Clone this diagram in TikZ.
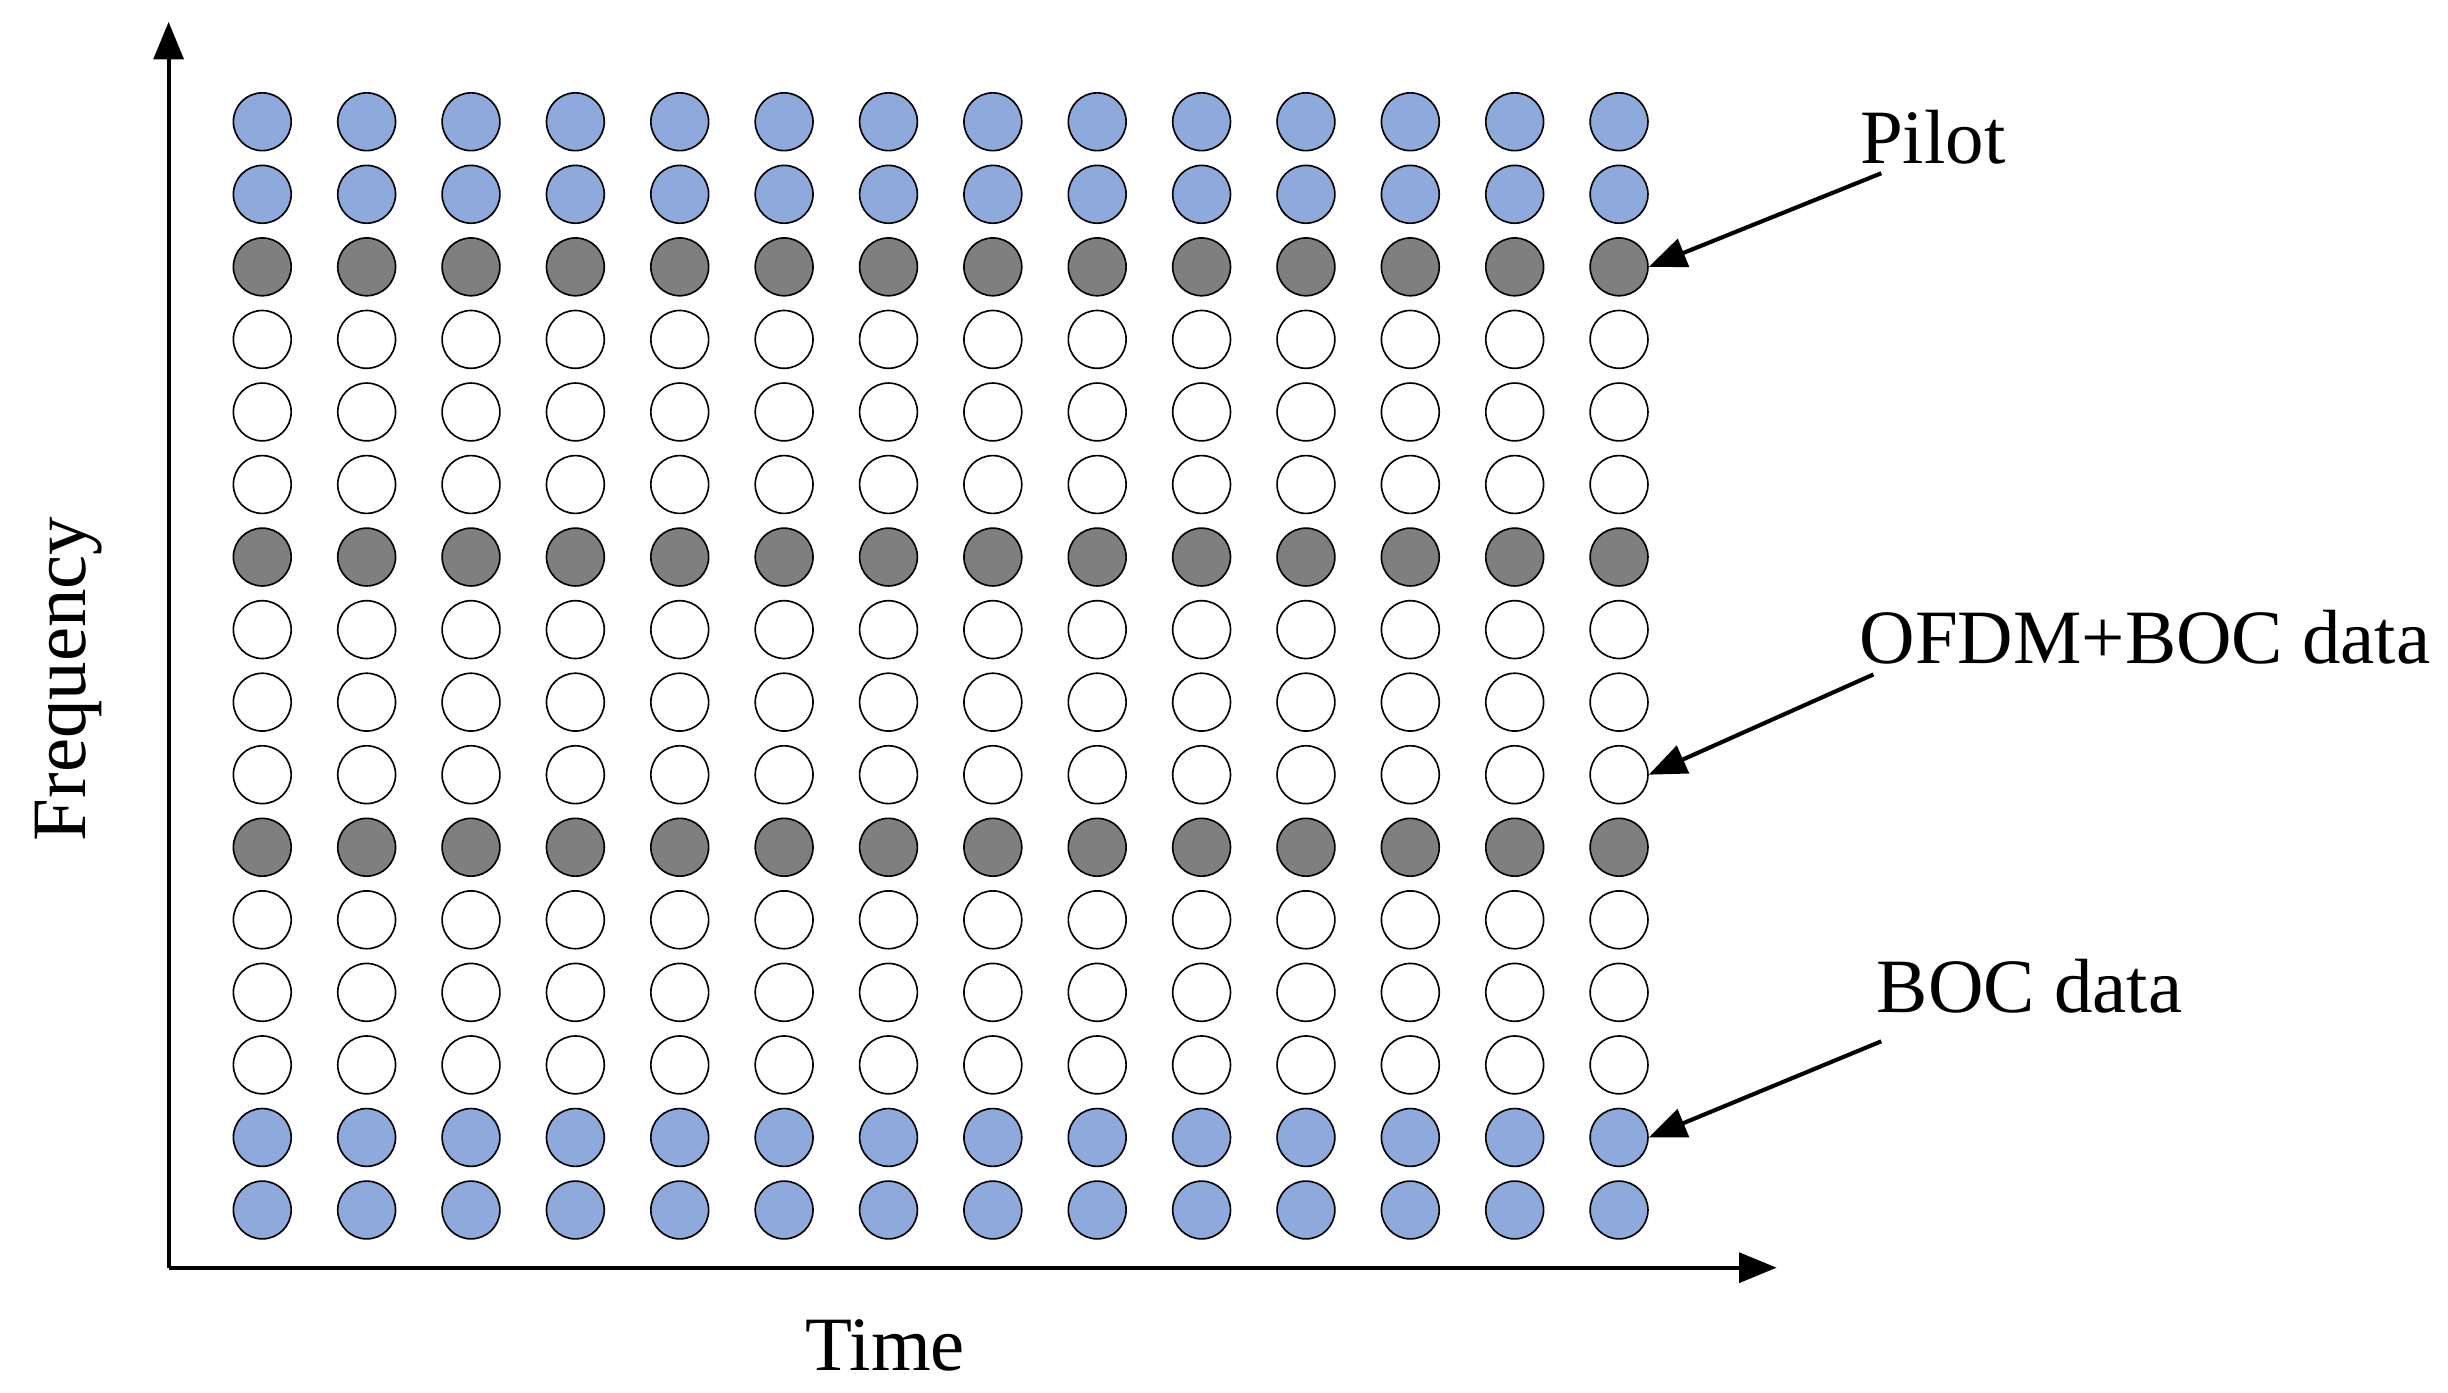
\documentclass[tikz,border=0pt]{standalone}
\usepackage{fontspec}
\setmainfont{Liberation Serif}
\usetikzlibrary{arrows.meta}
\definecolor{pblue}{HTML}{8EA9DB}
\definecolor{pgray}{HTML}{7F7F7F}
\begin{document}
\begin{tikzpicture}[x=0.01cm,y=-0.01cm,
  dot/.style={circle,draw=black,line width=0.3pt,minimum size=3.7mm,inner sep=0pt},
  lbl/.style={font=\fontsize{14}{16}\selectfont},
  arr/.style={-{Triangle[length=2.4mm,width=1.9mm]},line width=0.75pt}]
\useasboundingbox (0,0) rectangle (1568,892);
\foreach \r/\c in {1/pblue,2/pblue,3/pgray,4/white,5/white,6/white,7/pgray,8/white,9/white,10/white,11/pgray,12/white,13/white,14/white,15/pblue,16/pblue}{
  \foreach \k in {1,...,14}{
    \node[dot,fill=\c] (d\r-\k) at ({168+(\k-1)*66.85},{78+(\r-1)*46.47}) {};
  }
}
\coordinate (o) at (108,812);
\coordinate (ytop) at (108,14);
\coordinate (xend) at (1138,812);
\draw[arr] (o) -- (ytop);
\draw[arr] (o) -- (xend);
\node[lbl,rotate=90] (freq) at (44,435) {Frequency};
\node[lbl] (time) at (567,862) {Time};
\node[lbl] (pilot) at (1238,88) {Pilot};
\node[lbl] (ofdm) at (1374,408) {OFDM+BOC data};
\node[lbl] (boc) at (1300,632) {BOC data};
\coordinate (a1) at (1205,111);
\coordinate (a2) at (1200,432);
\coordinate (a3) at (1205,667);
\draw[arr] (a1) -- (d3-14.east);
\draw[arr] (a2) -- (d10-14.east);
\draw[arr] (a3) -- (d15-14.east);
\end{tikzpicture}
\end{document}
